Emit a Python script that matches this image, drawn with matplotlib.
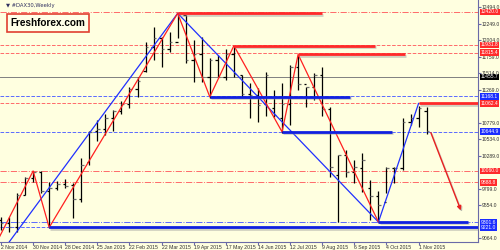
import matplotlib.pyplot as plt
import matplotlib.patheffects as pe

# weekly DAX bars, week 0 = 2 Nov 2014
opens = [9330, 9290, 9230, 9710, 9950, 10040, 9760, 9800, 9860, 9850,
         9650, 10200, 10650, 10690, 10850, 10950, 11050, 11280, 11550, 11900,
         12040, 11870, 11970, 12375, 11700, 11800, 11450, 11700, 11450, 11800,
         11480, 11200, 11190, 11050, 11000, 10850, 11060, 11600, 11350, 11300,
         11490, 10985, 10000, 10300, 10050, 10100, 9800, 9688, 9600, 10097,
         10104, 10794, 10850, 10950]
highs = [9376, 9376, 9732, 9970, 10059, 10059, 9896, 9910, 9940, 9881,
         10250, 10660, 10810, 10900, 10960, 11100, 11300, 11455, 11974, 12197,
         12048, 12123, 12405, 12375, 12004, 12048, 11737, 11781, 11870, 11915,
         11484, 11365, 11291, 11529, 11262, 11365, 11633, 11781, 11306, 11514,
         11603, 11009, 10296, 10370, 10222, 10326, 9925, 9762, 10118, 10118,
         10846, 10905, 11024, 11009]
lows = [9190, 9153, 9153, 9703, 9896, 9732, 9212, 9777, 9806, 9361,
        9598, 10148, 10500, 10600, 10650, 10900, 11000, 11157, 11529, 11707,
        11603, 11826, 12034, 11662, 11380, 11380, 11143, 11455, 11410, 11455,
        11157, 10846, 10786, 10875, 10861, 10623, 10742, 11262, 11009, 11113,
        10875, 9970, 9301, 9970, 9881, 9747, 9331, 9301, 9732, 9881,
        10074, 10742, 10712, 10608]
closes = [9290, 9230, 9700, 9950, 10040, 9760, 9800, 9860, 9840, 9650,
          10150, 10640, 10690, 10850, 10950, 11050, 11280, 11400, 11900, 12040,
          11870, 11967, 12375, 11700, 11800, 11450, 11700, 11450, 11800, 11500,
          11200, 11190, 11040, 11490, 10890, 11060, 11600, 11350, 11300, 11490,
          10985, 10124, 10298, 10038, 10123, 10229, 9688, 9553, 10097, 10104,
          10794, 10850, 10988, 10650]

date_labels = ['2 Nov 2014', '30 Nov 2014', '28 Dec 2014', '25 Jan 2015',
               '22 Feb 2015', '22 Mar 2015', '19 Apr 2015', '17 May 2015',
               '14 Jun 2015', '12 Jul 2015', '9 Aug 2015', '6 Sep 2015',
               '4 Oct 2015', '1 Nov 2015']
price_ticks = [12494.0, 12249.0, 12004.0, 11759.0, 11514.0, 11269.0,
               10779.0, 10534.0, 10289.0, 9799.0, 9554.0, 9064.0]

# zigzags (week, price)
red_zz_w = [-0.2, 4, 6, 22, 26, 29, 35, 37, 47]
red_zz_p = [9079, 10060, 9221, 12400, 11160, 11920, 10640, 11790, 9301.6]
blue_zz_w = [-3, 22, 47, 52]
blue_zz_p = [8355, 12400, 9301.6, 11062.4]

# level lines: price, colour, style
levels = [(12420.0, 'red', 'dashdot'), (11931.8, 'red', 'dashed'),
          (11815.4, 'red', 'dashed'), (11455.7, 'gray', 'solid'),
          (11168.1, 'blue', 'dashed'), (11062.4, 'red', 'dashed'),
          (10644.9, 'blue', 'dashed'), (10060.0, 'red', 'dashdot'),
          (9888.8, 'red', 'dashdot'), (9301.6, 'blue', 'dashdot'),
          (9221.0, 'blue', 'dashed')]

# thick segments: price, start week, end week, colour
segments = [(12400, 22, 40, 'red'), (11920, 29, 46.6, 'red'),
            (11790, 37, 50.3, 'red'), (11160, 26, 43.5, 'blue'),
            (10640, 35, 48.7, 'blue'), (11062.4, 52, 60, 'red'),
            (9301.6, 47, 58.2, 'blue'), (9221.0, 6, 60, 'blue')]

arrow_w = [53.4, 57.4]
arrow_p = [10668, 9435]

BG = '#ffffe0'
RED = '#ff2a2a'
BLUE = '#1a2cff'
colmap = {'red': '#ff6a6a', 'blue': '#5a6aff', 'gray': '#808080'}
shadow = [pe.SimpleLineShadow(offset=(0.8, -1.0), shadow_color='#9a9a9a', alpha=0.45), pe.Normal()]
FONT = 'Liberation Sans'

fig = plt.figure(figsize=(5, 2.5), dpi=100, facecolor=BG)
ax = fig.add_axes([0, 8 / 250, 478 / 500, 242 / 250])
ax.set_facecolor(BG)
ax.set_xlim(-0.125, 59.4)
ax.set_ylim(9005, 12598)

for p, c, ls in levels:
    ax.axhline(p, color=colmap[c], lw=0.7, ls=ls, zorder=1)

# bars
weeks = list(range(len(opens)))
ax.vlines(weeks, lows, highs, color='black', lw=0.9, zorder=3)
ax.hlines(opens, [w - 0.3 for w in weeks], weeks, color='black', lw=0.9, zorder=3)
ax.hlines(closes, weeks, [w + 0.3 for w in weeks], color='#707070', lw=0.9, zorder=3)

ax.plot(blue_zz_w, blue_zz_p, color='#2030ff', lw=0.9, zorder=4)
ax.plot(red_zz_w, red_zz_p, color='#ff2020', lw=0.9, zorder=4)

for p, w0, w1, c in segments:
    ax.plot([w0, w1], [p, p], color=RED if c == 'red' else '#1020e0', lw=2.0,
            solid_capstyle='butt', zorder=5, path_effects=shadow)

ax.annotate('', xy=(arrow_w[1], arrow_p[1]), xytext=(arrow_w[0], arrow_p[0]),
            arrowprops=dict(arrowstyle='-|>', color='#e82020', lw=1.0,
                            mutation_scale=6, path_effects=shadow), zorder=6)

# axes styling
for s in ['top', 'left']:
    ax.spines[s].set_visible(False)
for s in ['right', 'bottom']:
    ax.spines[s].set_color('#6a6aa8')
    ax.spines[s].set_linewidth(0.8)
ax.yaxis.tick_right()
ax.set_yticks(price_ticks)
ax.set_yticklabels(['%.1f' % t for t in price_ticks], fontsize=3.6,
                   color='#303030', family=FONT)
ax.tick_params(axis='y', length=2, pad=0.8, color='#6a6aa8')
xt = [4 * i for i in range(len(date_labels))]
ax.set_xticks(xt)
ax.set_xticklabels(date_labels, fontsize=3.7, color='#303030', ha='left', family=FONT)
ax.tick_params(axis='x', length=2, pad=0.5, color='#6a6aa8')

# coloured price labels on the right
tag_colors = {'red': RED, 'blue': BLUE, 'gray': 'black'}
for p, c, ls in levels:
    ax.text(1.006, p, '%.1f' % p, transform=ax.get_yaxis_transform(),
            fontsize=3.6, color='white', va='center', ha='left', family=FONT,
            bbox=dict(boxstyle='square,pad=0.15', fc=tag_colors[c], ec='none'),
            clip_on=False, zorder=10)

ax.text(0.012, 0.988, '\u25bc #DAX30,Weekly', transform=ax.transAxes,
        fontsize=3.8, color='#303060', va='top', ha='left', family=['DejaVu Sans'])
ax.text(0.022, 0.925, 'Freshforex.com', transform=ax.transAxes, fontsize=7.2,
        fontweight='bold', va='top', ha='left', color='black', family=FONT,
        bbox=dict(boxstyle='square,pad=0.4', fc='#ffffe8', ec='#e04030', lw=1.2))

fig.savefig('out.png', dpi=100, facecolor=BG)
